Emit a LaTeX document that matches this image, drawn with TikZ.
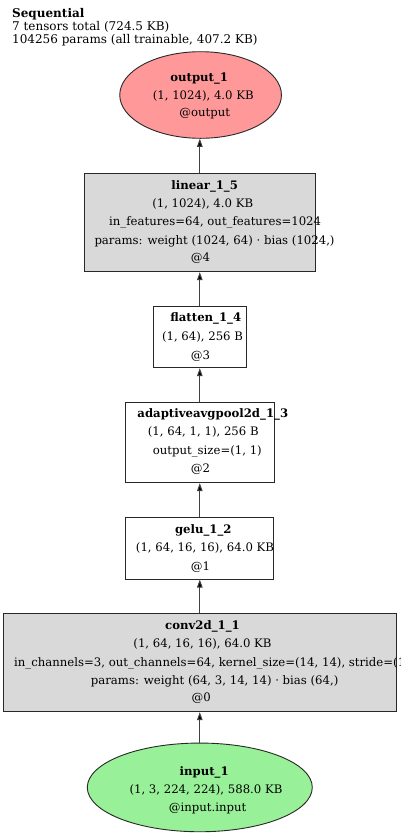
\documentclass[tikz,border=0pt]{standalone}
\usepackage{fontspec}
\setmainfont{DejaVu Serif}
\usetikzlibrary{shapes.geometric,arrows.meta}
\newcommand\myNodeFont{\fontsize{11.7}{13}\selectfont}
\newcommand\myHeadFont{\fontsize{12}{13}\selectfont}
\definecolor{outfill}{RGB}{255,153,153}
\definecolor{infill}{RGB}{152,240,152}
\definecolor{boxfill}{RGB}{217,217,217}
\definecolor{edgecol}{RGB}{40,40,40}
\tikzset{
  lbl/.style={anchor=base, inner sep=0pt, font=\myNodeFont},
  ttl/.style={anchor=base, inner sep=0pt, font=\myNodeFont\bfseries},
  lblw/.style={anchor=base west, inner sep=0pt, font=\myNodeFont},
  hdr/.style={anchor=base west, inner sep=0pt, font=\myHeadFont},
  hdrb/.style={anchor=base west, inner sep=0pt, font=\myHeadFont\bfseries},
  opbox/.style={draw=edgecol, line width=0.9pt, rectangle, inner sep=0pt},
  grbox/.style={opbox, fill=boxfill},
  wtbox/.style={opbox, fill=white},
  oval/.style={draw=edgecol, line width=0.9pt, ellipse, inner sep=0pt},
  arr/.style={draw=black!75, line width=1pt, -{Triangle[length=8pt,width=5.5pt,fill=black]}}
}
\begin{document}
\begin{tikzpicture}[x=1pt,y=-1pt]
\clip (0,0) rectangle (400,839);
\fill[white] (0,0) rectangle (400,839);

% header
\node[hdrb] (h1) at (12,17.3) {Sequential};
\node[hdr] (h2) at (12,30.5) {7 tensors total (724.5 KB)};
\node[hdr] (h3) at (12,43.7) {104256 params (all trainable, 407.2 KB)};

% shapes
\node[oval, fill=outfill, minimum width=161.7pt, minimum height=86.6pt] (out) at (200.6,95) {};
\node[grbox, minimum width=231.3pt, minimum height=98.4pt] (lin) at (199.7,222.5) {};
\node[wtbox, minimum width=93.4pt, minimum height=61pt] (flat) at (200,337.2) {};
\node[wtbox, minimum width=149pt, minimum height=80.4pt] (pool) at (199.8,442.5) {};
\node[wtbox, minimum width=147.6pt, minimum height=61.7pt] (gelu) at (199.5,548.2) {};
\node[grbox, minimum width=392.7pt, minimum height=98.4pt] (conv) at (199.7,662.5) {};
\node[oval, fill=infill, minimum width=225pt, minimum height=88.7pt] (in) at (199.8,787.4) {};

% output text
\node[ttl] (out-t1) at (199.2,81.7) {output\_1};
\node[lbl] (out-t2) at (203.3,99) {(1, 1024), 4.0 KB};
\node[lbl] (out-t3) at (204.8,116.7) {@output};

% linear text
\node[ttl] (lin-t1) at (204.7,189.3) {linear\_1\_5};
\node[lbl] (lin-t2) at (202.7,207.3) {(1, 1024), 4.0 KB};
\node[lblw] (lin-t3) at (109,225.7) {in\_features=64, out\_features=1024};
\node[lblw] (lin-t4) at (94.3,244) {params: weight (1024, 64) · bias (1024,)};
\node[lbl] (lin-t5) at (200.5,261.7) {@4};

% flatten text
\node[ttl] (flat-t1) at (205.8,321.7) {flatten\_1\_4};
\node[lbl] (flat-t2) at (202.5,340.7) {(1, 64), 256 B};
\node[lbl] (flat-t3) at (200.5,359) {@3};

% pool text
\node[ttl] (pool-t1) at (212.8,417.7) {adaptiveavgpool2d\_1\_3};
\node[lbl] (pool-t2) at (203.3,435.7) {(1, 64, 1, 1), 256 B};
\node[lbl] (pool-t3) at (207.3,454) {output\_size=(1, 1)};
\node[lbl] (pool-t4) at (200.5,472.3) {@2};

% gelu text
\node[ttl] (gelu-t1) at (203.3,533.3) {gelu\_1\_2};
\node[lbl] (gelu-t2) at (205,551.7) {(1, 64, 16, 16), 64.0 KB};
\node[lbl] (gelu-t3) at (200.5,570) {@1};

% conv text
\node[ttl] (conv-t1) at (202.5,629.3) {conv2d\_1\_1};
\node[lbl] (conv-t2) at (202.5,647.3) {(1, 64, 16, 16), 64.0 KB};
\node[lblw] (conv-t3) at (14,666) {in\_channels=3, out\_channels=64, kernel\_size=(14, 14), stride=(14, 14)};
\node[lblw] (conv-t4) at (90.7,684) {params: weight (64, 3, 14, 14) · bias (64,)};
\node[lbl] (conv-t5) at (201.2,701.7) {@0};

% input text
\node[ttl] (in-t1) at (204.2,775) {input\_1};
\node[lbl] (in-t2) at (206,793.3) {(1, 3, 224, 224), 588.0 KB};
\node[lbl] (in-t3) at (207.7,811.7) {@input.input};

% edges (kept vertical)
\draw[arr] (in.north) -- (in.north |- conv.south);
\draw[arr] (in.north |- conv.north) -- (in.north |- gelu.south);
\draw[arr] (in.north |- gelu.north) -- (in.north |- pool.south);
\draw[arr] (in.north |- pool.north) -- (in.north |- flat.south);
\draw[arr] (in.north |- flat.north) -- (in.north |- lin.south);
\draw[arr] (in.north |- lin.north) -- (in.north |- out.south);
\end{tikzpicture}
\end{document}
